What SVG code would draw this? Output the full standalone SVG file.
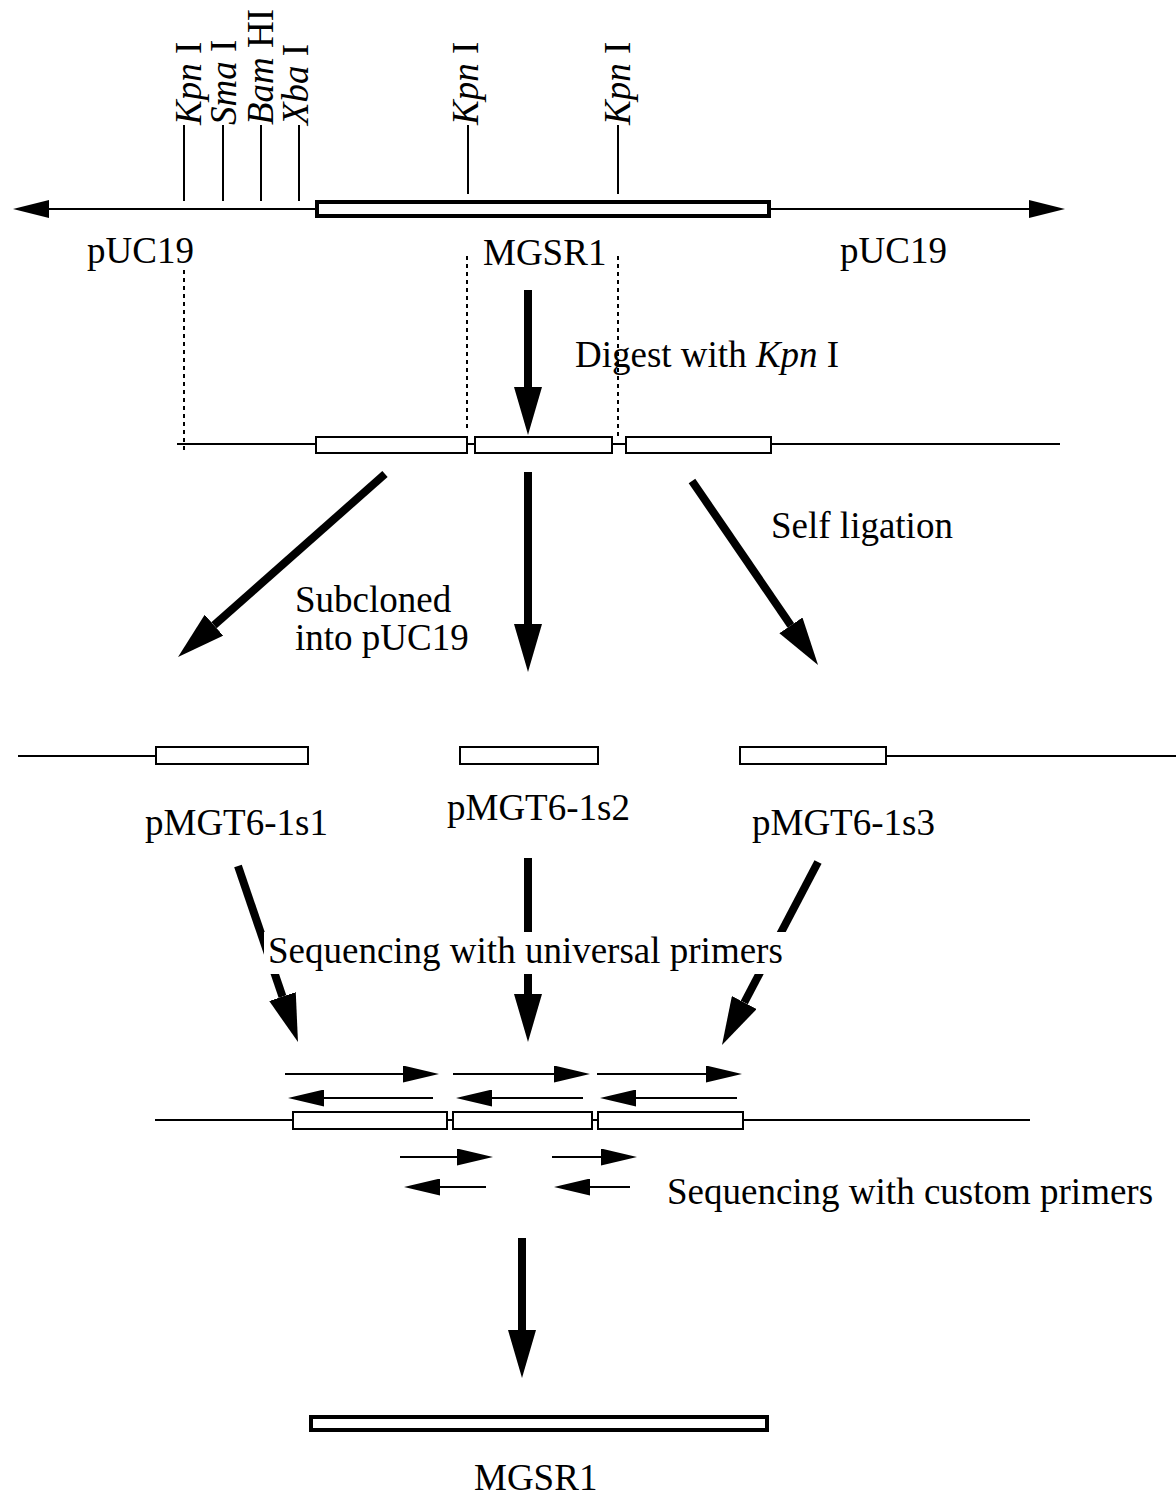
<svg xmlns="http://www.w3.org/2000/svg" width="1176" height="1500" viewBox="0 0 1176 1500">
<style>
  text { font-family: "Liberation Serif", "Times New Roman", serif; font-size: 37px; fill: #000; }
  .it { font-style: italic; }
  .thin { stroke: #000; stroke-width: 2; fill: none; }
  .dot { stroke: #000; stroke-width: 2; stroke-dasharray: 4 4; fill: none; }
  .frag { stroke: #000; stroke-width: 2; fill: #fff; }
  .thick { stroke: #000; stroke-width: 4; fill: #fff; }
  .big { stroke: #000; stroke-width: 8; fill: none; marker-end: url(#bighead); }
  .small { stroke: #000; stroke-width: 2; fill: none; marker-end: url(#smallhead); }
  .ends { stroke: #000; stroke-width: 2; fill: none; marker-start: url(#endhead-rev); marker-end: url(#endhead); }
</style>
<defs>
  <marker id="bighead" viewBox="0 -14 48 28" refX="0" refY="0" markerWidth="48" markerHeight="28" markerUnits="userSpaceOnUse" orient="auto">
    <path d="M0,-14 L48,0 L0,14 z" fill="#000"/>
  </marker>
  <marker id="smallhead" viewBox="0 -8.5 36 17" refX="0" refY="0" markerWidth="36" markerHeight="17" markerUnits="userSpaceOnUse" orient="auto">
    <path d="M0,-8.5 L36,0 L0,8.5 z" fill="#000"/>
  </marker>
  <marker id="endhead" viewBox="0 -9 36 18" refX="0" refY="0" markerWidth="36" markerHeight="18" markerUnits="userSpaceOnUse" orient="auto">
    <path d="M0,-9 L36,0 L0,9 z" fill="#000"/>
  </marker>
  <marker id="endhead-rev" viewBox="-36 -9 36 18" refX="0" refY="0" markerWidth="36" markerHeight="18" markerUnits="userSpaceOnUse" orient="auto">
    <path d="M0,-9 L-36,0 L0,9 z" fill="#000"/>
  </marker>
</defs>

<g id="construct">
  <line class="ends" x1="49" y1="209" x2="1029" y2="209"/>
  <rect class="thick" x="317" y="202" width="452" height="14"/>
  <line class="thin" x1="184" y1="125" x2="184" y2="201"/>
  <line class="thin" x1="223" y1="125" x2="223" y2="201"/>
  <line class="thin" x1="261" y1="125" x2="261" y2="201"/>
  <line class="thin" x1="299" y1="125" x2="299" y2="201"/>
  <line class="thin" x1="468" y1="125" x2="468" y2="194"/>
  <line class="thin" x1="618" y1="125" x2="618" y2="194"/>
  <text transform="translate(201,125) rotate(-90)"><tspan class="it">Kpn</tspan> I</text>
  <text transform="translate(236,125) rotate(-90)"><tspan class="it">Sma</tspan> I</text>
  <text transform="translate(273,125) rotate(-90)"><tspan class="it">Bam</tspan> HI</text>
  <text transform="translate(308,125) rotate(-90)"><tspan class="it">Xba</tspan> I</text>
  <text transform="translate(478,125) rotate(-90)"><tspan class="it">Kpn</tspan> I</text>
  <text transform="translate(630,125) rotate(-90)"><tspan class="it">Kpn</tspan> I</text>
  <text x="87" y="263">pUC19</text>
  <text x="483" y="265">MGSR1</text>
  <text x="840" y="263">pUC19</text>
</g>

<g id="digested">
  <line class="thin" x1="177" y1="444" x2="1060" y2="444"/>
  <rect class="frag" x="316" y="437" width="151" height="16"/>
  <rect class="frag" x="475" y="437" width="137" height="16"/>
  <rect class="frag" x="626" y="437" width="145" height="16"/>
</g>

<g id="subclones">
  <line class="thin" x1="18" y1="756" x2="156" y2="756"/>
  <rect class="frag" x="156" y="747" width="152" height="17"/>
  <rect class="frag" x="460" y="747" width="138" height="17"/>
  <rect class="frag" x="740" y="747" width="146" height="17"/>
  <line class="thin" x1="886" y1="756" x2="1176" y2="756"/>
  <text x="145" y="835">pMGT6-1s1</text>
  <text x="447" y="820">pMGT6-1s2</text>
  <text x="752" y="835">pMGT6-1s3</text>
</g>

<g id="sequencing-map">
  <line class="thin" x1="155" y1="1120" x2="1030" y2="1120"/>
  <rect class="frag" x="293" y="1112" width="154" height="17"/>
  <rect class="frag" x="453" y="1112" width="139" height="17"/>
  <rect class="frag" x="598" y="1112" width="145" height="17"/>
  <line class="small" x1="285" y1="1074" x2="403" y2="1074"/>
  <line class="small" x1="453" y1="1074" x2="554" y2="1074"/>
  <line class="small" x1="597" y1="1074" x2="706" y2="1074"/>
  <line class="small" x1="433" y1="1098" x2="324" y2="1098"/>
  <line class="small" x1="583" y1="1098" x2="492" y2="1098"/>
  <line class="small" x1="737" y1="1098" x2="636" y2="1098"/>
  <line class="small" x1="400" y1="1157" x2="457" y2="1157"/>
  <line class="small" x1="552" y1="1157" x2="601" y2="1157"/>
  <line class="small" x1="486" y1="1187" x2="440" y2="1187"/>
  <line class="small" x1="630" y1="1187" x2="590" y2="1187"/>
  <text x="667" y="1204">Sequencing with custom primers</text>
</g>

<g id="final">
  <rect class="thick" x="311" y="1417" width="456" height="13"/>
  <text x="474" y="1490">MGSR1</text>
</g>

<g id="connectors">
  <line class="dot" x1="184" y1="270" x2="184" y2="452"/>
  <line class="dot" x1="467" y1="256" x2="467" y2="430"/>
  <line class="dot" x1="618" y1="256" x2="618" y2="437"/>
  <line class="big" x1="528" y1="290" x2="528" y2="387"/>
  <line class="big" x1="385" y1="474" x2="214" y2="625.2"/>
  <line class="big" x1="528" y1="472" x2="528" y2="624"/>
  <line class="big" x1="692" y1="481" x2="790.9" y2="625.4"/>
  <line class="big" x1="238" y1="866" x2="282.5" y2="996.6"/>
  <line class="big" x1="528" y1="858" x2="528" y2="994"/>
  <line class="big" x1="818" y1="862" x2="744.3" y2="1002.5"/>
  <line class="big" x1="522" y1="1238" x2="522" y2="1330"/>
</g>

<g id="labels">
  <text x="575" y="367">Digest with <tspan class="it">Kpn</tspan> I</text>
  <text x="771" y="538">Self ligation</text>
  <text x="295" y="612">Subcloned</text>
  <text x="295" y="650">into pUC19</text>
  <rect x="264" y="932" width="528" height="42" fill="#fff"/>
  <text x="268" y="963">Sequencing with universal primers</text>
</g>
</svg>
